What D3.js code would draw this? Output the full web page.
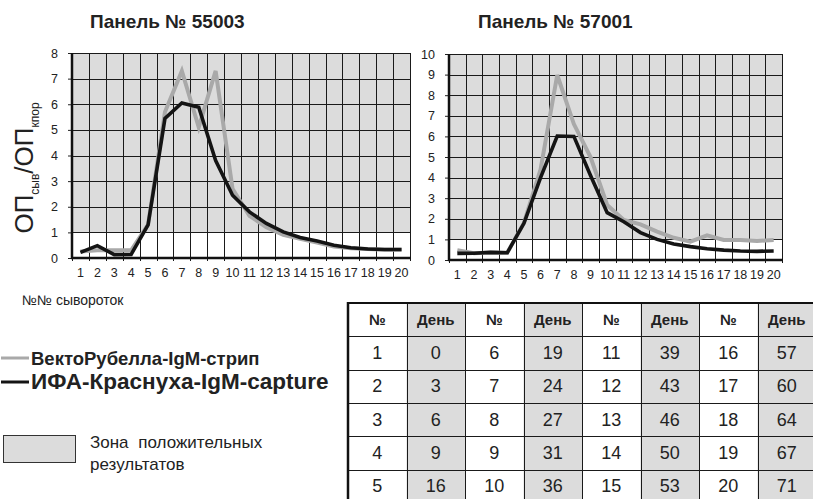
<!DOCTYPE html>
<html>
<head>
<meta charset="utf-8">
<script src="https://cdn.jsdelivr.net/npm/d3@7"></script>
<style>
  body { margin: 0; background: #fff; }
  svg { display: block; font-family: "Liberation Sans", Arial, sans-serif; }
  .grid line { stroke: #1a1a1a; stroke-width: 1; shape-rendering: crispEdges; }
  .tick text { font-size: 12.5px; fill: #222; }
</style>
</head>
<body>
<div id="chart"></div>
<script>
// serum numbers (x categories)
var serumNo = [1, 2, 3, 4, 5, 6, 7, 8, 9, 10, 11, 12, 13, 14, 15, 16, 17, 18, 19, 20];

// panel 55003: OD ratio per serum
var p55003Vector = [0.25, 0.3, 0.3, 0.3, 1.3, 5.7, 7.3, 5.1, 7.3, 2.7, 1.65, 1.2, 0.9, 0.75, 0.6, 0.45, 0.38, 0.35, 0.32, 0.32];
var p55003Ifa    = [0.22, 0.48, 0.13, 0.14, 1.29, 5.45, 6.05, 5.88, 3.8, 2.45, 1.8, 1.35, 1.02, 0.8, 0.66, 0.5, 0.4, 0.35, 0.33, 0.33];

// panel 57001
var p57001Vector = [0.48, 0.33, 0.37, 0.35, 1.8, 4.4, 8.98, 6.6, 5.0, 2.67, 1.94, 1.73, 1.38, 1.08, 0.89, 1.2, 0.97, 0.97, 0.92, 0.97];
var p57001Ifa    = [0.32, 0.33, 0.37, 0.35, 1.78, 4.0, 6.02, 6.0, 4.1, 2.3, 1.86, 1.33, 1.0, 0.78, 0.65, 0.55, 0.48, 0.44, 0.42, 0.44];

// table: serum number -> day
var tableNo  = [1, 2, 3, 4, 5, 6, 7, 8, 9, 10, 11, 12, 13, 14, 15, 16, 17, 18, 19, 20];
var tableDay = [0, 3, 6, 9, 16, 19, 24, 27, 31, 36, 39, 43, 46, 50, 53, 57, 60, 64, 67, 71];
var tableHeader = ["№", "День"];

var seriesNames = ["ВектоРубелла-IgM-стрип", "ИФА-Краснуха-IgM-capture"];

var colorVector = "#a9a9a9";
var colorIfa = "#141414";
var colorZone = "#dcdcdc";

var svg = d3.select("#chart").append("svg")
    .attr("width", 813)
    .attr("height", 499);

function drawPanel(p) {
  var g = svg.append("g");
  var x = d3.scaleBand().domain(serumNo).range([p.left, p.right]);
  var y = d3.scaleLinear().domain([0, p.yMax]).range([p.bottom, p.top]);

  // positive zone (above 1)
  g.append("rect")
      .attr("x", p.left).attr("y", y(p.yMax))
      .attr("width", p.right - p.left).attr("height", y(1) - y(p.yMax))
      .attr("fill", colorZone);

  // grid
  var grid = g.append("g").attr("class", "grid");
  var edges = serumNo.map(function(d) { return x(d); }).concat([p.right]);
  grid.selectAll("line.v").data(edges).enter().append("line")
      .attr("class", "v")
      .attr("x1", function(d) { return Math.round(d) + 0.5; })
      .attr("x2", function(d) { return Math.round(d) + 0.5; })
      .attr("y1", p.top).attr("y2", p.bottom + 3);
  grid.selectAll("line.h").data(d3.range(1, p.yMax + 1)).enter().append("line")
      .attr("class", "h")
      .attr("x1", p.left).attr("x2", p.right)
      .attr("y1", function(d) { return Math.round(y(d)) + 0.5; })
      .attr("y2", function(d) { return Math.round(y(d)) + 0.5; });

  // axes
  var ay = g.append("g")
      .attr("transform", "translate(" + p.left + ",0)")
      .call(d3.axisLeft(y).ticks(p.yMax).tickSize(4).tickPadding(10));
  ay.select(".domain").remove();
  ay.selectAll(".tick line").attr("stroke", "#222");

  var ax = g.append("g")
      .attr("transform", "translate(0," + p.bottom + ")")
      .call(d3.axisBottom(x).tickSize(0).tickPadding(10));
  ax.select(".domain").remove();

  g.append("line")
      .attr("x1", p.left).attr("x2", p.left)
      .attr("y1", p.top).attr("y2", p.bottom + 1)
      .attr("stroke", "#111").attr("stroke-width", 2.5);
  g.append("line")
      .attr("x1", p.left - 1).attr("x2", p.right + 1)
      .attr("y1", p.bottom).attr("y2", p.bottom)
      .attr("stroke", "#111").attr("stroke-width", 2.5);

  // series
  var line = d3.line()
      .x(function(d, i) { return x(serumNo[i]) + x.bandwidth() / 2; })
      .y(function(d) { return y(d); });

  g.append("path").datum(p.vector)
      .attr("d", line).attr("fill", "none")
      .attr("stroke", colorVector).attr("stroke-width", 4)
      .attr("stroke-linejoin", "miter");
  g.append("path").datum(p.ifa)
      .attr("d", line).attr("fill", "none")
      .attr("stroke", colorIfa).attr("stroke-width", 3.6)
      .attr("stroke-linejoin", "miter");

  svg.append("text")
      .attr("x", p.titleX).attr("y", 28)
      .attr("font-size", 19).attr("font-weight", "bold").attr("fill", "#222")
      .text(p.title);
}

drawPanel({ title: "Панель № 55003", titleX: 90, left: 72, right: 410, top: 53, bottom: 258, yMax: 8,
            vector: p55003Vector, ifa: p55003Ifa });
drawPanel({ title: "Панель № 57001", titleX: 478, left: 449, right: 782, top: 54, bottom: 260, yMax: 10,
            vector: p57001Vector, ifa: p57001Ifa });

// y axis title
var yt = svg.append("text")
    .attr("transform", "translate(33,168) rotate(-90)")
    .attr("text-anchor", "middle")
    .attr("fill", "#222")
    .attr("font-size", 26);
yt.append("tspan").text("ОП");
yt.append("tspan").attr("font-size", 12).attr("dy", 6).text("сыв");
yt.append("tspan").attr("dy", -6).text("/ОП");
yt.append("tspan").attr("font-size", 12).attr("dy", 6).text("кпор");

svg.append("text")
    .attr("x", 22).attr("y", 305)
    .attr("font-size", 14).attr("fill", "#222")
    .text("№№ сывороток");

// legend
var legend = svg.append("g");
[colorVector, colorIfa].forEach(function(c, i) {
  var yy = i === 0 ? 358 : 382;
  legend.append("line")
      .attr("x1", 1).attr("x2", 29).attr("y1", yy).attr("y2", yy)
      .attr("stroke", c).attr("stroke-width", 3);
  legend.append("text")
      .attr("x", 31).attr("y", yy + 7)
      .attr("font-size", i === 0 ? 18.5 : 22.5)
      .attr("font-weight", "bold").attr("fill", "#222")
      .text(seriesNames[i]);
});
legend.append("rect")
    .attr("x", 3.5).attr("y", 435.5).attr("width", 72).attr("height", 27)
    .attr("fill", colorZone).attr("stroke", "#333").attr("stroke-width", 1);
legend.append("text")
    .attr("x", 90).attr("y", 448)
    .attr("font-size", 17).attr("fill", "#222").attr("word-spacing", 5)
    .text("Зона положительных");
legend.append("text")
    .attr("x", 90).attr("y", 470)
    .attr("font-size", 17).attr("fill", "#222")
    .text("результатов");

// table of serum days
var nGroups = 4, nRows = 5;
var cols = d3.scaleBand().domain(d3.range(nGroups * 2)).range([348, 816]);
var rows = d3.scaleBand().domain(d3.range(nRows + 1)).range([303, 503]);
var table = svg.append("g");

d3.range(nGroups).forEach(function(gi) {
  table.append("rect")
      .attr("x", cols(gi * 2 + 1)).attr("y", rows(0))
      .attr("width", cols.bandwidth()).attr("height", rows.bandwidth() * (nRows + 1))
      .attr("fill", colorZone);
  d3.range(2).forEach(function(k) {
    table.append("text")
        .attr("x", cols(gi * 2 + k) + cols.bandwidth() / 2)
        .attr("y", rows(0) + rows.bandwidth() / 2 + 5)
        .attr("text-anchor", "middle")
        .attr("font-size", 15).attr("font-weight", "bold").attr("fill", "#222")
        .text(tableHeader[k]);
  });
  d3.range(nRows).forEach(function(r) {
    var idx = gi * nRows + r;
    [tableNo[idx], tableDay[idx]].forEach(function(v, k) {
      table.append("text")
          .attr("x", cols(gi * 2 + k) + cols.bandwidth() / 2)
          .attr("y", rows(r + 1) + rows.bandwidth() / 2 + 6)
          .attr("text-anchor", "middle")
          .attr("font-size", 18).attr("fill", "#222")
          .text(v);
    });
  });
});

var tgrid = table.append("g").attr("class", "grid");
tgrid.selectAll("line.v").data(d3.range(nGroups * 2)).enter().append("line")
    .attr("x1", function(d) { return Math.round(cols(d)) + 0.5; })
    .attr("x2", function(d) { return Math.round(cols(d)) + 0.5; })
    .attr("y1", 303).attr("y2", 499);
tgrid.selectAll("line.h").data(d3.range(1, nRows + 1)).enter().append("line")
    .attr("x1", 348).attr("x2", 813)
    .attr("y1", function(d) { return Math.round(rows(d)) + 0.5; })
    .attr("y2", function(d) { return Math.round(rows(d)) + 0.5; });
table.append("line").attr("x1", 348).attr("x2", 348).attr("y1", 302).attr("y2", 499)
    .attr("stroke", "#111").attr("stroke-width", 2.5);
table.append("line").attr("x1", 347).attr("x2", 813).attr("y1", 303).attr("y2", 303)
    .attr("stroke", "#111").attr("stroke-width", 2);
</script>
</body>
</html>
